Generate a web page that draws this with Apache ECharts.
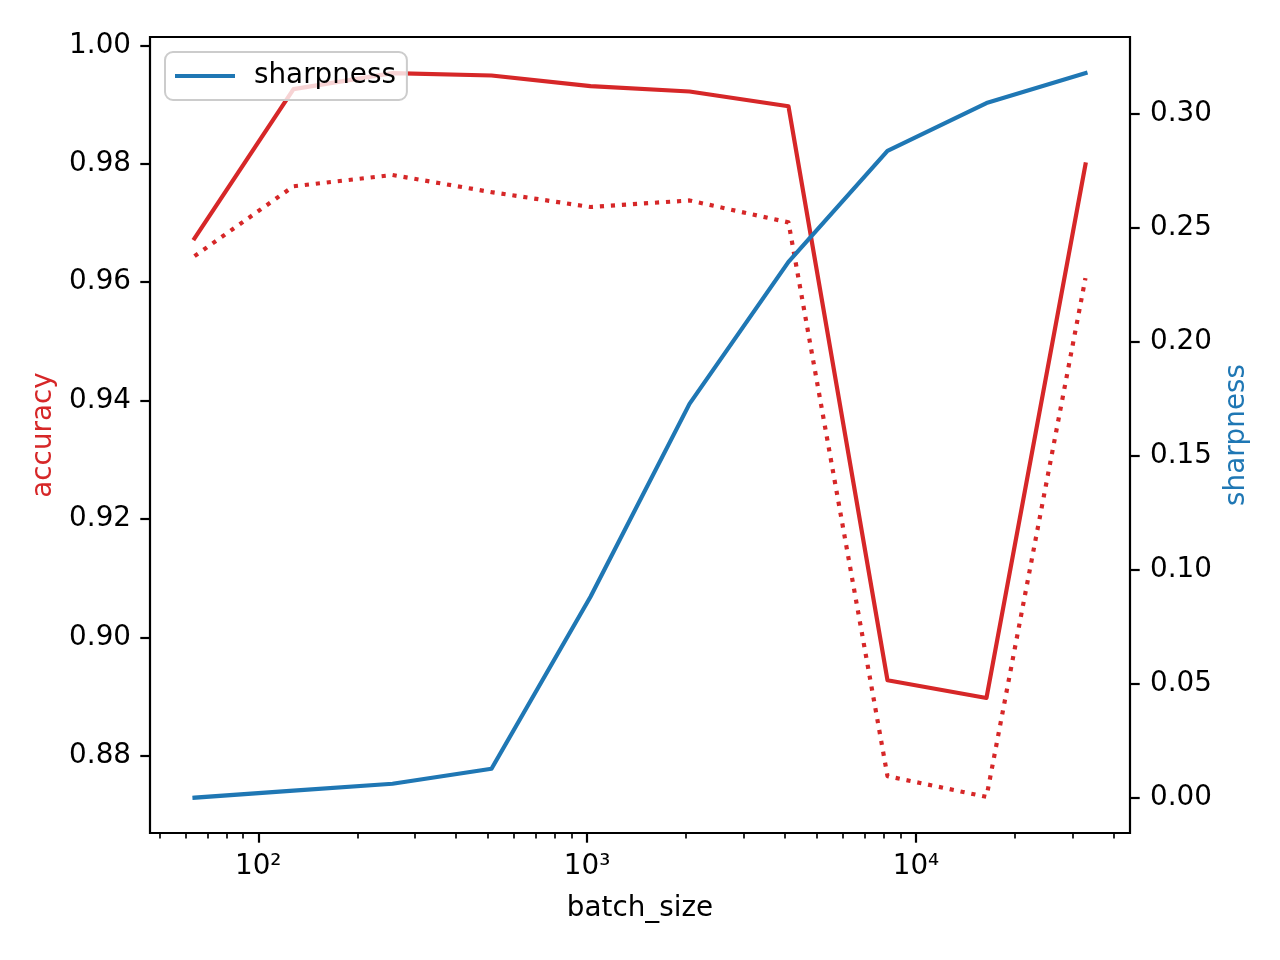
<!DOCTYPE html>
<html><head><meta charset="utf-8">
<script src="https://cdn.jsdelivr.net/npm/echarts@6/dist/echarts.min.js"></script>
<style>html,body{margin:0;padding:0;background:#fff}#chart{width:1280px;height:960px}</style>
</head><body><div id="chart"></div>
<script>
const batchSizes = [64, 128, 256, 512, 1024, 2048, 4096, 8192, 16384, 32768];
const trainAccuracy = [0.9674, 0.9926, 0.9953, 0.9949, 0.9931, 0.9922, 0.9897, 0.8928, 0.8898, 0.9799];
const testAccuracy = [0.9644, 0.9762, 0.9781, 0.9752, 0.9727, 0.9738, 0.9701, 0.8766, 0.8731, 0.9607];
const sharpness = [0.0000, 0.0031, 0.0061, 0.0127, 0.0882, 0.1728, 0.2351, 0.2838, 0.3048, 0.3180];
const xMajorTicks = [100, 1000, 10000];
const xMinorTicks = [50, 60, 70, 80, 90, 200, 300, 400, 500, 600, 700, 800, 900,
  2000, 3000, 4000, 5000, 6000, 7000, 8000, 9000, 20000, 30000, 40000];
const accuracyTicks = [0.88, 0.90, 0.92, 0.94, 0.96, 0.98, 1.00];
const sharpnessTicks = [0.00, 0.05, 0.10, 0.15, 0.20, 0.25, 0.30];

const FONT = 'DejaVu Sans';
const FS = 27.8;
const RED = '#d62728', BLUE = '#1f77b4';
const sup = {2: '\u00b2', 3: '\u00b3', 4: '\u2074'};
const pairs = (ys) => batchSizes.map((x, i) => [x, ys[i]]);

const chart = echarts.init(document.getElementById('chart'), null, {renderer: 'canvas'});
const tickLine = {color: '#000', width: 2.2};
const labelStyle = {fontFamily: FONT, fontSize: FS, color: '#000'};
const noLine = {show: false, onZero: false};

chart.setOption({
  animation: false,
  backgroundColor: '#fff',
  grid: {left: 150, right: 150, top: 37, bottom: 127, show: true, borderColor: '#000', borderWidth: 2.2, backgroundColor: 'transparent'},
  legend: {
    data: ['sharpness'], left: 165, top: 52, orient: 'vertical',
    icon: 'rect', itemWidth: 60, itemHeight: 4.2, padding: [10, 11, 10, 10],
    borderColor: '#cccccc', borderWidth: 2, borderRadius: 8,
    backgroundColor: 'rgba(255,255,255,0.8)', selectedMode: false,
    textStyle: {fontFamily: FONT, fontSize: FS, color: '#000', padding: [0, 0, 0, 14], lineHeight: 28}
  },
  xAxis: [
    {
      type: 'log', logBase: 10, min: 46.86, max: 44756, position: 'bottom',
      axisLine: noLine, splitLine: {show: false}, minorTick: {show: false},
      axisTick: {show: true, customValues: xMajorTicks, length: 9.7, lineStyle: tickLine},
      axisLabel: Object.assign({customValues: xMajorTicks, margin: 20,
        formatter: (v) => '10' + sup[Math.round(Math.log10(v))]}, labelStyle),
      name: 'batch_size', nameLocation: 'middle', nameGap: 62,
      nameTextStyle: {fontFamily: FONT, fontSize: FS, color: '#000'}
    },
    {
      type: 'log', logBase: 10, min: 46.86, max: 44756, position: 'bottom',
      axisLine: noLine, splitLine: {show: false}, axisLabel: {show: false},
      axisTick: {show: true, customValues: xMinorTicks, length: 5.6, lineStyle: {color: '#000', width: 1.67}}
    }
  ],
  yAxis: [
    {
      type: 'value', min: 0.867, max: 1.0014, position: 'left',
      axisLine: noLine, splitLine: {show: false},
      axisTick: {show: true, customValues: accuracyTicks, length: 9.7, lineStyle: tickLine},
      axisLabel: Object.assign({customValues: accuracyTicks, margin: 19, padding: [4, 0, 0, 0], formatter: (v) => v.toFixed(2)}, labelStyle),
      name: 'accuracy', nameLocation: 'middle', nameGap: 92,
      nameTextStyle: {fontFamily: FONT, fontSize: FS, color: RED}
    },
    {
      type: 'value', min: -0.0155, max: 0.3338, position: 'right',
      axisLine: noLine, splitLine: {show: false},
      axisTick: {show: true, customValues: sharpnessTicks, length: 9.7, lineStyle: tickLine},
      axisLabel: Object.assign({customValues: sharpnessTicks, margin: 20, padding: [4, 0, 0, 0], formatter: (v) => v.toFixed(2)}, labelStyle),
      name: 'sharpness', nameLocation: 'middle', nameGap: 93,
      nameTextStyle: {fontFamily: FONT, fontSize: FS, color: BLUE}
    }
  ],
  series: [
    {
      name: 'train accuracy', type: 'line', xAxisIndex: 0, yAxisIndex: 0, data: pairs(trainAccuracy),
      symbol: 'none', color: RED, lineStyle: {color: RED, width: 4.2, join: 'round', cap: 'square'}
    },
    {
      name: 'test accuracy', type: 'line', xAxisIndex: 0, yAxisIndex: 0, data: pairs(testAccuracy),
      symbol: 'none', color: RED, lineStyle: {color: RED, width: 4.2, type: [4.17, 6.875], join: 'round', cap: 'butt'}
    },
    {
      name: 'sharpness', type: 'line', xAxisIndex: 0, yAxisIndex: 1, data: pairs(sharpness),
      symbol: 'none', color: BLUE, lineStyle: {color: BLUE, width: 4.2, join: 'round', cap: 'square'}
    }
  ]
});
</script>
</body></html>
